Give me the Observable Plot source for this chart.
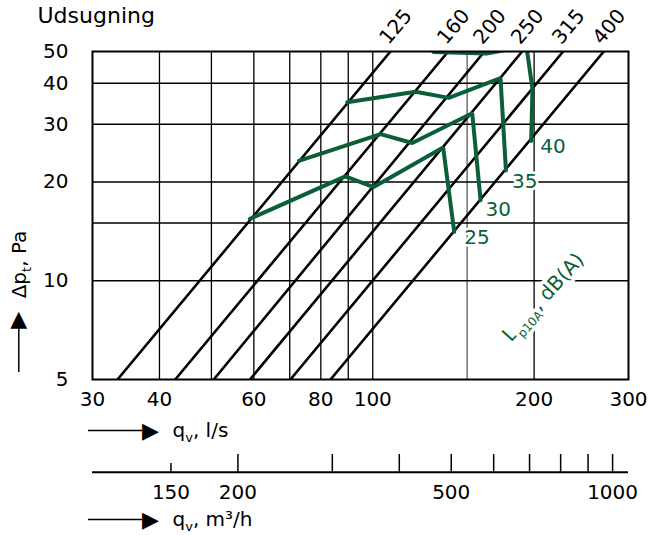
<!DOCTYPE html>
<html><head><meta charset="utf-8">
<script src="https://cdn.jsdelivr.net/npm/d3@7"></script>
<script src="https://cdn.jsdelivr.net/npm/@observablehq/plot@0.6"></script>
<style>body{margin:0;background:#fff}#chart svg{display:block}</style>
</head><body><div id="chart"></div>
<script>
// ---- data ----
const title = "Udsugning";
const qTicks = [30, 40, 60, 80, 100, 200, 300];
const qGridBlack = [40, 50, 60, 70, 80, 90, 100, 200];
const qGridGray = [150];
const pTicks = [5, 10, 20, 30, 40, 50];
const pGrid = [10, 15, 20, 30, 40];

const ductSizes = ["125", "160", "200", "250", "315", "400"];
const ductQat5 = [33.4, 42.8, 50.5, 59.0, 70.2, 83.4];       // l/s at 5 Pa
const ductQat50 = [107.9, 138.3, 161.6, 190.0, 226.6, 269.8]; // l/s at 50 Pa

const levelNames = ["25", "30", "35", "40"];
const level25Q = [59.0, 88.9, 100.4, 135.3, 141.9];
const level25P = [15.45, 20.8, 19.3, 25.5, 14.1];
const level30Q = [72.8, 103.4, 118.5, 153.3, 158.9];
const level30P = [23.2, 28.0, 26.3, 32.4, 17.6];
const level35Q = [89.6, 120.2, 138.6, 173.1, 177.2];
const level35P = [35.0, 37.7, 36.1, 41.5, 21.7];
const level40Q = [129.8, 163.0, 193.5, 198.6, 197.5];
const level40P = [49.8, 49.3, 51.9, 38.4, 26.7];

const m3hTicks = [200, 300, 400, 500, 600, 700, 800, 900, 1000];
const m3hShortTicks = [150];
const m3hLabels = [150, 200, 500, 1000];
const noiseLabel = "Lp10A, dB(A)";
const noiseLabelQ = [208];
const noiseLabelP = [8.9];

// ---- tables built from the arrays ----
const ducts = ductSizes.flatMap((d, i) => [
  {duct: d, q: ductQat5[i], p: 5},
  {duct: d, q: ductQat50[i], p: 50}
]);
const ductTops = ductSizes.map((d, i) => ({duct: d, q: ductQat50[i], p: 50}));
const levelQ = [level25Q, level30Q, level35Q, level40Q];
const levelP = [level25P, level30P, level35P, level40P];
const levels = levelNames.flatMap((n, k) => levelQ[k].map((q, i) => ({level: n, q, p: levelP[k][i]})));
const levelEnds = levelNames.map((n, k) => ({level: n, q: levelQ[k][levelQ[k].length - 1], p: levelP[k][levelP[k].length - 1]}));
const toLps = (m3h) => m3h / 3.6;

const green = "#0a5f38";
const labelOffsets = {"25": [10, 6], "30": [5, 9], "35": [6, 11], "40": [9, 6]};

const chart = Plot.plot({
  width: 654,
  height: 535,
  marginLeft: 92,
  marginRight: 26,
  marginTop: 51,
  marginBottom: 156,
  style: {fontFamily: "DejaVu Sans", fontSize: "20px", background: "white", color: "black"},
  x: {type: "log", domain: [30, 300], ticks: qTicks, tickFormat: d => String(d), tickSize: 0, tickPadding: 12, label: null},
  y: {type: "log", domain: [5, 50], ticks: pTicks, tickFormat: d => String(d), tickSize: 0, tickPadding: 24, label: null},
  marks: [
    Plot.ruleX(qGridBlack, {stroke: "black", strokeWidth: 1.3}),
    Plot.ruleX(qGridGray, {stroke: "#7a7a7a", strokeWidth: 1.6}),
    Plot.ruleY(pGrid, {stroke: "black", strokeWidth: 1.5}),
    Plot.line(ducts, {x: "q", y: "p", z: "duct", stroke: "black", strokeWidth: 2.6, clip: true}),
    Plot.line(levels, {x: "q", y: "p", z: "level", stroke: green, strokeWidth: 4, clip: true, strokeLinejoin: "miter"}),
    Plot.frame({stroke: "black", strokeWidth: 2}),
    Plot.text(ductTops, {x: "q", y: "p", text: "duct", rotate: -50, textAnchor: "start", lineAnchor: "bottom", dx: -2, dy: -6, fill: "black"}),
    ...levelNames.map(n => Plot.text(levelEnds.filter(d => d.level === n), {
      x: "q", y: "p", text: "level", textAnchor: "start", lineAnchor: "middle",
      dx: labelOffsets[n][0], dy: labelOffsets[n][1],
      fill: green, stroke: "white", strokeWidth: 5, paintOrder: "stroke"
    })),
    Plot.text(noiseLabelQ.map((q, i) => ({q, p: noiseLabelP[i], t: noiseLabel})), {
      x: "q", y: "p", text: "t", rotate: -48, textAnchor: "middle", lineAnchor: "middle",
      fill: green, stroke: "white", strokeWidth: 7, paintOrder: "stroke"
    }),
    // title
    Plot.text([title], {frameAnchor: "top-left", dx: -55, dy: -29, textAnchor: "start", lineAnchor: "bottom", fontSize: 22}),
    // y axis label and arrow
    Plot.text(["Δpt, Pa"], {frameAnchor: "left", rotate: -90, dx: -67, dy: 49, textAnchor: "middle", lineAnchor: "bottom"}),
    Plot.ruleX([30], {dx: -73.7, insetTop: 277, insetBottom: 7, stroke: "black", strokeWidth: 1.5}),
    Plot.text(["▲"], {frameAnchor: "left", dx: -73.7, dy: 103, textAnchor: "middle", lineAnchor: "middle", fontSize: 22}),
    // x axis label l/s
    Plot.ruleY([5], {dy: 51, insetLeft: -4, insetRight: 486, stroke: "black", strokeWidth: 1.5}),
    Plot.text(["▶"], {frameAnchor: "bottom-left", dx: 58, dy: 51, textAnchor: "middle", lineAnchor: "middle", fontSize: 22}),
    Plot.text(["qv, l/s"], {frameAnchor: "bottom-left", dx: 80, dy: 51, textAnchor: "start", lineAnchor: "middle"}),
    // secondary axis m3/h
    Plot.ruleY([5], {dy: 92.7, stroke: "black", strokeWidth: 2}),
    Plot.ruleX(m3hTicks, {x: toLps, dx: 2, insetTop: 403, insetBottom: -92.7, stroke: "black", strokeWidth: 1.5}),
    Plot.ruleX(m3hShortTicks, {x: toLps, dx: 2, insetTop: 412, insetBottom: -92.7, stroke: "black", strokeWidth: 1.5}),
    Plot.text(m3hLabels, {x: toLps, dx: 2, frameAnchor: "bottom", dy: 112.7, text: d => String(d), lineAnchor: "middle"}),
    Plot.ruleY([5], {dy: 140, insetLeft: -4, insetRight: 486, stroke: "black", strokeWidth: 1.5}),
    Plot.text(["▶"], {frameAnchor: "bottom-left", dx: 58, dy: 140, textAnchor: "middle", lineAnchor: "middle", fontSize: 22}),
    Plot.text(["qv, m³/h"], {frameAnchor: "bottom-left", dx: 80, dy: 140, textAnchor: "start", lineAnchor: "middle"})
  ]
});

// subscripts as real text (tspans)
function setParts(el, parts, size, shift) {
  const sel = d3.select(el);
  sel.text(null);
  let down = false;
  for (const [txt, isSub] of parts) {
    const ts = sel.append("tspan").text(txt);
    if (isSub && !down) { ts.attr("font-size", size).attr("dy", shift); down = true; }
    else if (!isSub && down) { ts.attr("dy", -shift); down = false; }
  }
}
d3.select(chart).selectAll("text").each(function () {
  const t = this.textContent;
  if (t === "Δpt, Pa") setParts(this, [["Δp"], ["t", true], [", Pa"]], 13, 5);
  else if (t === "qv, l/s") setParts(this, [["q"], ["v", true], [", l/s"]], 13, 5);
  else if (t === "qv, m³/h") setParts(this, [["q"], ["v", true], [", m³/h"]], 13, 5);
  else if (t === noiseLabel) setParts(this, [["L"], ["p10A", true], [", dB(A)"]], 12, 6);
});

document.getElementById("chart").appendChild(chart);
</script>
</body></html>
